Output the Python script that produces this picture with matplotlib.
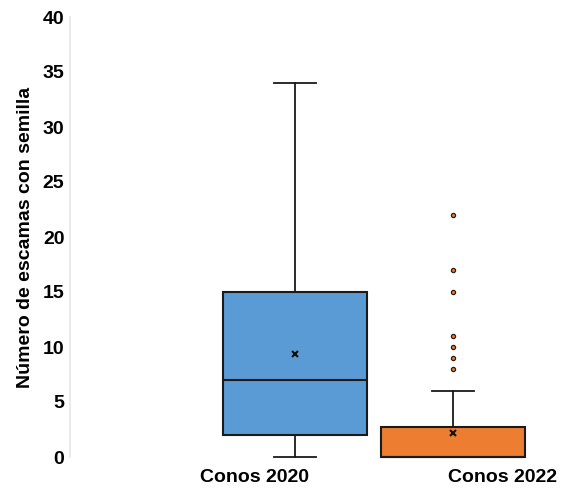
import matplotlib
matplotlib.use("Agg")
import matplotlib.pyplot as plt

# Summary statistics for each year
categories = ["Conos 2020", "Conos 2022"]
whisker_low = [0, 0]
q1 = [2, 0]
median = [7, 0]
q3 = [15, 2.7]
whisker_high = [34, 6]
means = [9.4, 2.2]
outliers = [[], [8, 9, 10, 11, 15, 17, 22]]
colors = ["#5B9BD5", "#ED7D31"]

plt.rcParams["font.family"] = ["Liberation Sans", "DejaVu Sans"]

fig = plt.figure(figsize=(5.61, 4.91), dpi=100)
ax = fig.add_axes([70 / 561, 1 - 457 / 491, 491 / 561, 440 / 491])

stats = []
for i, name in enumerate(categories):
    stats.append(dict(label=name, whislo=whisker_low[i], q1=q1[i], med=median[i],
                      q3=q3[i], whishi=whisker_high[i], mean=means[i], fliers=outliers[i]))

box_pos = [225 / 491, 383 / 491]
box_w = 144 / 491
bp = ax.bxp(stats, positions=box_pos, widths=box_w, patch_artist=True,
            showmeans=True, capwidths=42 / 491, manage_ticks=False,
            boxprops=dict(edgecolor="#1a1a1a", linewidth=1.5),
            medianprops=dict(color="#1a1a1a", linewidth=1.5),
            whiskerprops=dict(color="#1a1a1a", linewidth=1.3),
            capprops=dict(color="#1a1a1a", linewidth=1.3),
            meanprops=dict(marker="x", markeredgecolor="#111111", markersize=5,
                           markeredgewidth=1.5),
            flierprops=dict(marker="o", markersize=3, markeredgewidth=0.9,
                            markeredgecolor="#2a1f15"))
for patch, c in zip(bp["boxes"], colors):
    patch.set_facecolor(c)
    patch.set_clip_on(False)
for fl, c in zip(bp["fliers"], colors):
    fl.set_markerfacecolor(c)
for key in ["whiskers", "caps", "medians", "means", "fliers"]:
    for a in bp[key]:
        a.set_clip_on(False)

ax.set_xlim(0, 1)
ax.set_ylim(0, 40)
ax.set_yticks(range(0, 41, 5))
ax.set_xticks([185 / 491, 432 / 491])
ax.set_xticklabels(categories)
ax.tick_params(axis="both", length=0, labelsize=14)
ax.tick_params(axis="y", pad=4)
ax.tick_params(axis="x", pad=9)
for lab in ax.get_xticklabels() + ax.get_yticklabels():
    lab.set_fontweight("bold")

for s in ["top", "right", "bottom"]:
    ax.spines[s].set_visible(False)
ax.spines["left"].set_color("#e6e6e6")
ax.spines["left"].set_linewidth(1.2)

ax.set_ylabel("Número de escamas con semilla", fontsize=14, fontweight="bold", labelpad=6)

fig.savefig("out.png", dpi=100)
